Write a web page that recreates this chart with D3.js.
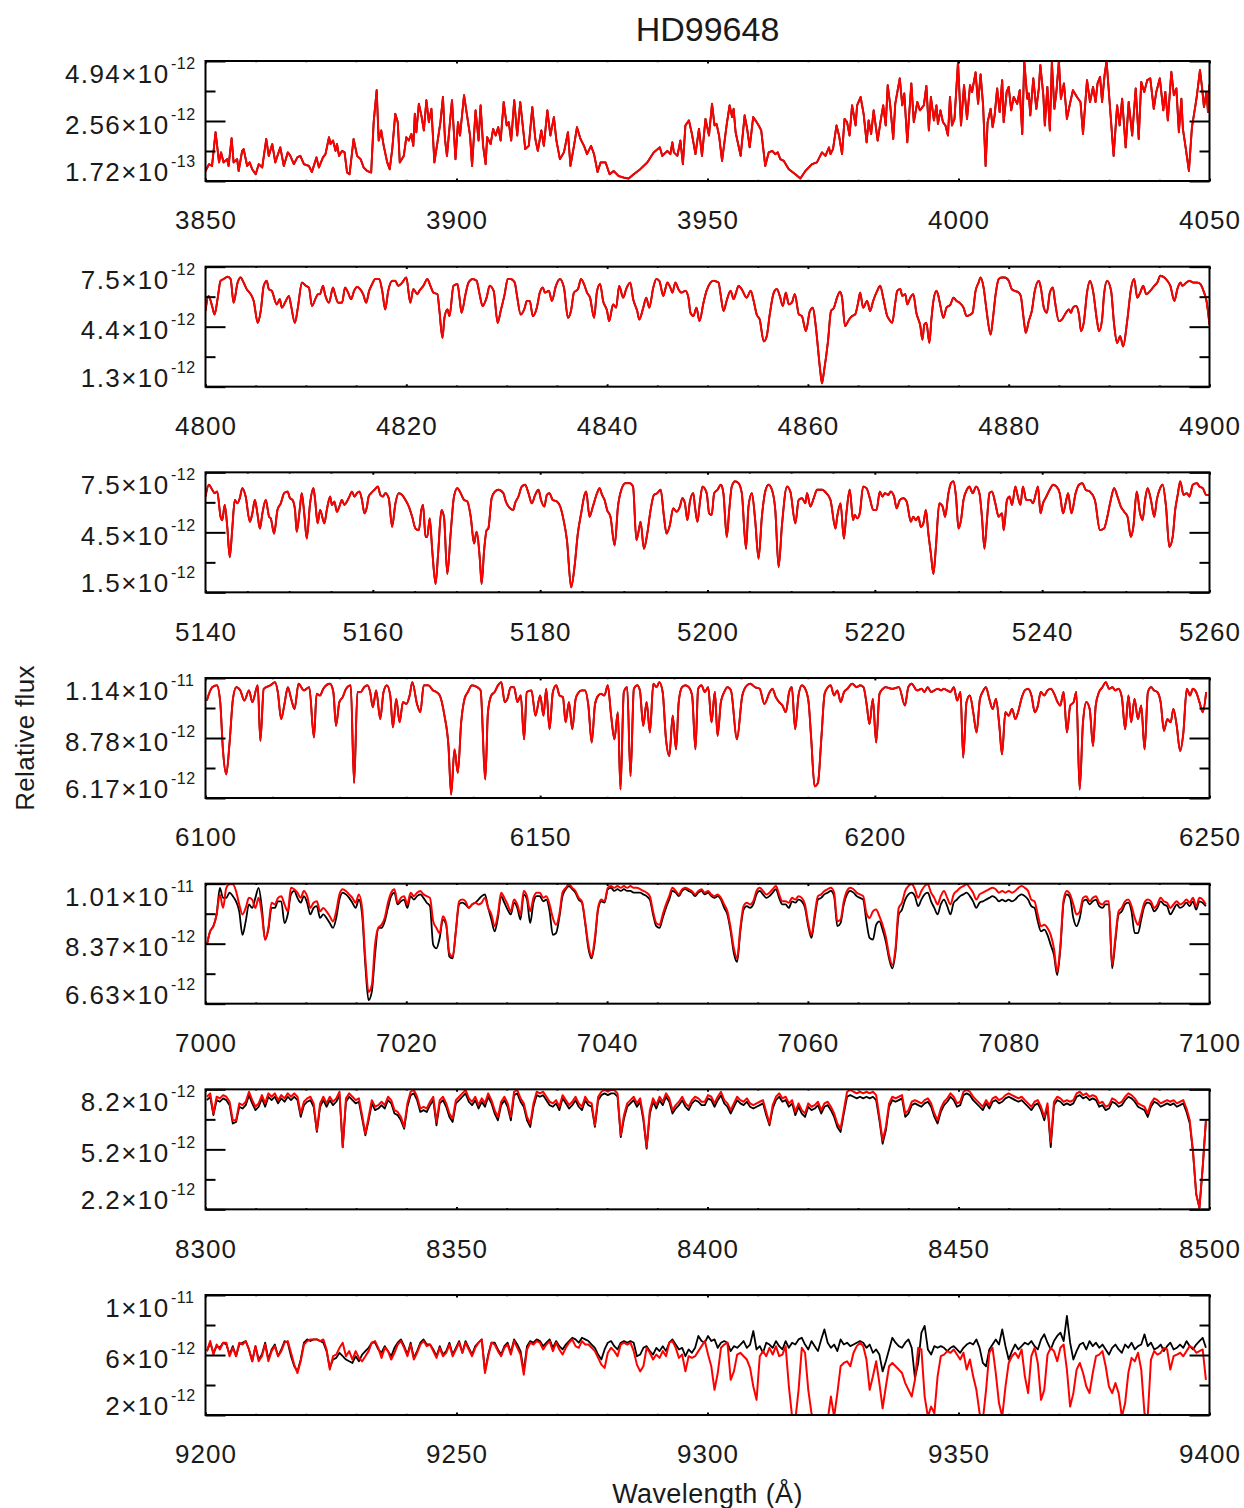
<!DOCTYPE html>
<html>
<head>
<meta charset="utf-8">
<script src="https://cdn.jsdelivr.net/npm/d3@7"></script>
<style>
  body { margin: 0; background: #fff; }
  svg text { font-family: "Liberation Sans", Arial, Helvetica, sans-serif; }
</style>
</head>
<body>
<svg id="chart" width="1244" height="1508"></svg>
<script>
// ---- Spectral windows of HD99648: observed (black) and model (red) flux ----
const FLUX_UNIT = 1e-12;   // flux arrays below are in units of 1e-12

const titleText = "HD99648";
const xAxisTitle = "Wavelength (Å)";
const yAxisTitle = "Relative flux";

// wavelength window of each panel (Å)
const waveRanges = [[3850, 4050], [4800, 4900], [5140, 5260], [6100, 6250], [7000, 7100], [8300, 8500], [9200, 9400]];
const waveMajorSteps = [50, 20, 20, 50, 20, 50, 50];
const waveMinorSteps = [10, 5, 5, 10, 5, 10, 10];

// labelled flux ticks of each panel: bottom, middle, top
const fluxTicks = [
  [1.72e-13, 2.56e-12, 4.94e-12],
  [1.3e-12, 4.4e-12, 7.5e-12],
  [1.5e-12, 4.5e-12, 7.5e-12],
  [6.17e-12, 8.78e-12, 1.14e-11],
  [6.63e-12, 8.37e-12, 1.01e-11],
  [2.2e-12, 5.2e-12, 8.2e-12],
  [2e-12, 6e-12, 1e-11]
];

// [wavelength, flux] vertices
const model3850 = [[3850.0,0.57],[3850.7,0.84],[3851.3,0.77],[3852.0,2.11],[3852.7,0.91],[3853.1,1.31],[3853.6,0.91],[3854.3,1.04],[3854.6,0.77],[3855.2,1.87],[3855.6,0.91],[3856.3,1.04],[3856.6,0.57],[3857.3,1.37],[3857.6,1.44],[3858.3,0.77],[3858.8,0.91],[3859.3,0.64],[3860.0,0.44],[3860.6,0.84],[3861.3,0.71],[3862.1,1.84],[3862.6,1.17],[3863.3,1.64],[3863.9,0.91],[3864.9,1.51],[3865.6,0.77],[3866.4,1.31],[3866.9,1.17],[3867.6,0.84],[3868.3,1.11],[3868.9,1.17],[3869.6,0.84],[3870.6,0.77],[3871.2,0.53],[3872.1,1.11],[3872.6,0.71],[3873.4,1.11],[3873.9,1.24],[3874.6,1.91],[3874.9,1.64],[3875.4,1.78],[3875.9,1.37],[3876.2,1.64],[3876.6,1.17],[3877.2,1.37],[3877.7,1.31],[3878.2,0.51],[3878.7,0.44],[3879.5,1.84],[3880.2,1.17],[3880.9,1.04],[3881.5,0.71],[3882.2,0.57],[3883.0,0.51],[3883.5,2.51],[3884.1,3.78],[3884.5,1.78],[3885.0,2.18],[3885.5,1.57],[3886.2,0.91],[3886.7,0.64],[3887.2,1.44],[3887.8,2.84],[3888.3,2.51],[3888.7,0.91],[3889.5,1.17],[3890.0,1.91],[3890.5,1.78],[3891.0,2.04],[3891.4,1.57],[3891.7,2.84],[3892.0,2.11],[3892.5,3.24],[3893.0,2.78],[3893.5,2.18],[3894.0,3.38],[3894.5,2.51],[3895.0,3.04],[3895.6,0.91],[3896.3,1.84],[3896.8,2.51],[3897.3,3.51],[3897.7,1.84],[3898.1,1.17],[3898.7,2.51],[3899.1,3.38],[3899.8,1.04],[3900.3,2.51],[3900.7,1.98],[3901.5,3.58],[3902.1,2.78],[3902.7,1.98],[3903.1,0.77],[3903.8,2.98],[3904.4,1.78],[3904.8,3.18],[3905.3,1.57],[3905.8,0.84],[3906.1,1.91],[3906.8,1.64],[3907.3,2.24],[3907.8,1.98],[3908.3,2.31],[3908.8,1.78],[3909.4,3.31],[3910.0,2.38],[3910.4,2.51],[3910.9,1.78],[3911.5,3.38],[3912.1,1.98],[3912.7,3.31],[3913.3,2.18],[3913.7,1.44],[3914.4,1.57],[3915.1,3.11],[3915.7,1.84],[3916.2,1.37],[3916.9,2.18],[3917.4,1.57],[3918.1,2.98],[3918.7,1.98],[3919.4,2.71],[3919.9,1.78],[3920.6,1.04],[3921.4,1.31],[3922.2,2.11],[3922.7,0.77],[3923.4,1.57],[3924.0,2.31],[3924.7,1.84],[3925.4,1.57],[3926.0,1.24],[3926.8,1.57],[3927.4,1.24],[3928.1,0.53],[3928.7,0.91],[3929.7,0.91],[3930.5,0.44],[3931.3,0.57],[3932.3,0.37],[3933.3,0.31],[3934.3,0.27],[3935.3,0.44],[3936.6,0.64],[3938.0,0.91],[3939.3,1.31],[3940.5,1.51],[3941.0,1.17],[3942.0,1.37],[3942.6,1.24],[3943.0,1.71],[3943.3,1.31],[3944.0,1.17],[3944.6,1.78],[3945.1,0.84],[3945.6,2.38],[3946.3,2.58],[3946.9,2.04],[3947.6,1.24],[3948.3,2.24],[3948.9,1.17],[3949.6,2.64],[3950.3,1.98],[3950.9,3.24],[3951.4,2.38],[3951.8,2.44],[3952.3,1.98],[3952.9,0.97],[3953.8,2.38],[3954.4,3.18],[3954.9,2.71],[3955.2,3.04],[3955.6,2.11],[3956.6,1.17],[3957.4,2.78],[3957.9,2.24],[3958.4,1.51],[3959.1,2.71],[3959.8,2.51],[3960.2,2.38],[3960.7,2.18],[3961.5,0.77],[3962.2,1.31],[3962.9,1.37],[3963.5,1.24],[3964.0,1.31],[3964.5,1.04],[3965.2,0.97],[3966.2,0.64],[3967.5,0.44],[3968.5,0.27],[3969.5,0.57],[3970.8,0.84],[3971.8,0.91],[3972.8,1.31],[3973.5,1.17],[3974.2,1.51],[3974.5,1.24],[3975.0,1.44],[3975.7,2.38],[3976.2,1.98],[3976.8,1.24],[3977.3,2.64],[3977.8,2.51],[3978.3,1.98],[3978.8,3.18],[3979.5,2.38],[3979.8,3.18],[3980.5,3.51],[3981.1,2.84],[3981.7,1.71],[3982.1,2.58],[3982.6,2.04],[3983.1,2.98],[3983.9,1.78],[3984.5,2.58],[3985.0,3.18],[3985.5,2.38],[3985.9,3.98],[3986.4,3.18],[3987.0,1.84],[3987.4,3.24],[3988.3,4.25],[3988.8,3.18],[3989.2,3.65],[3989.8,1.71],[3990.6,4.05],[3991.1,2.51],[3991.8,3.31],[3992.3,2.98],[3993.1,3.18],[3993.6,3.95],[3994.1,2.18],[3994.5,3.51],[3995.1,2.58],[3995.6,3.18],[3995.9,2.44],[3996.4,2.98],[3996.9,2.51],[3997.4,2.38],[3997.9,1.98],[3998.3,3.51],[3998.7,2.38],[3999.2,2.64],[3999.9,4.89],[4000.5,2.38],[4001.1,3.98],[4001.7,2.64],[4002.3,3.98],[4002.7,3.71],[4003.4,4.49],[4003.9,3.24],[4004.4,4.41],[4004.9,3.18],[4005.4,0.77],[4005.8,2.51],[4006.4,3.04],[4006.8,2.31],[4007.2,2.78],[4007.7,3.85],[4008.2,2.91],[4008.7,4.18],[4009.0,2.51],[4009.6,3.71],[4010.0,3.91],[4010.5,2.98],[4011.0,3.51],[4011.7,3.24],[4012.2,3.78],[4012.7,2.04],[4013.1,4.94],[4013.7,3.44],[4014.0,3.65],[4014.3,2.78],[4014.9,4.25],[4015.5,3.04],[4016.0,3.85],[4016.3,4.78],[4016.9,3.58],[4017.2,2.38],[4017.7,3.91],[4018.2,2.18],[4018.6,4.89],[4019.1,3.04],[4019.5,3.71],[4020.0,4.94],[4020.4,3.44],[4021.0,4.05],[4021.6,2.64],[4022.2,3.24],[4022.8,3.78],[4023.6,3.51],[4024.3,3.31],[4024.8,2.04],[4025.6,4.18],[4026.2,3.31],[4026.8,3.91],[4027.3,3.31],[4027.7,4.05],[4028.2,4.31],[4028.6,3.31],[4029.1,4.38],[4029.5,4.94],[4030.1,3.31],[4030.9,1.17],[4031.6,3.18],[4032.1,2.38],[4032.6,3.44],[4033.3,1.51],[4033.9,3.31],[4034.6,1.98],[4035.3,3.85],[4035.9,1.84],[4036.4,4.11],[4037.0,3.71],[4037.6,4.18],[4038.2,4.25],[4038.9,3.04],[4039.4,3.71],[4040.1,4.25],[4040.8,2.98],[4041.2,3.71],[4041.7,2.58],[4042.4,4.51],[4042.9,3.58],[4043.4,3.85],[4043.9,2.11],[4044.4,3.44],[4044.7,2.24],[4045.2,1.57],[4045.9,0.57],[4046.5,2.31],[4047.2,3.18],[4047.5,3.58],[4048.1,4.58],[4048.5,3.91],[4048.9,3.11],[4049.4,3.71],[4049.7,2.91],[4050.0,4.0]];
const obs3850 = model3850;

const model4800 = [[4800.0,5.21],[4800.3,5.99],[4800.7,5.38],[4800.9,5.03],[4801.2,5.82],[4801.5,6.77],[4801.8,6.86],[4802.2,6.98],[4802.5,6.86],[4802.8,5.64],[4803.2,6.68],[4803.5,6.94],[4803.8,6.68],[4804.1,6.34],[4804.5,6.08],[4804.8,5.73],[4805.2,4.60],[4805.5,5.21],[4805.8,6.51],[4806.1,6.77],[4806.3,6.34],[4806.6,6.25],[4807.1,5.55],[4807.4,5.82],[4807.6,5.38],[4808.0,5.73],[4808.3,5.99],[4808.5,5.55],[4808.9,4.60],[4809.2,5.38],[4809.6,6.68],[4810.0,6.51],[4810.3,6.42],[4810.6,5.47],[4811.0,5.90],[4811.2,6.08],[4811.4,6.08],[4811.7,6.51],[4811.9,6.08],[4812.3,5.64],[4812.7,6.42],[4812.9,6.08],[4813.2,5.64],[4813.6,5.64],[4813.9,6.42],[4814.2,6.16],[4814.5,5.82],[4814.8,6.25],[4815.1,6.46],[4815.4,6.34],[4815.7,6.08],[4816.0,5.64],[4816.3,6.25],[4816.6,6.60],[4816.9,6.86],[4817.3,6.86],[4817.6,6.25],[4817.9,5.29],[4818.2,6.25],[4818.6,6.77],[4818.9,6.77],[4819.2,6.51],[4819.6,6.68],[4820.0,6.94],[4820.4,5.64],[4820.7,6.34],[4821.1,6.08],[4821.3,6.25],[4821.7,6.51],[4822.1,6.86],[4822.4,6.51],[4822.7,6.16],[4823.1,6.08],[4823.3,5.21],[4823.6,3.82],[4823.8,4.86],[4824.1,5.29],[4824.3,4.95],[4824.7,6.51],[4825.1,6.60],[4825.3,5.90],[4825.5,5.12],[4825.9,6.08],[4826.2,6.68],[4826.6,6.86],[4827.0,6.77],[4827.3,6.08],[4827.6,5.47],[4828.0,5.90],[4828.3,6.51],[4828.7,6.25],[4829.1,4.60],[4829.4,5.21],[4829.8,6.08],[4830.1,6.86],[4830.4,6.86],[4830.8,6.68],[4831.0,6.08],[4831.4,5.03],[4831.8,5.38],[4832.0,5.73],[4832.3,5.73],[4832.6,4.95],[4833.0,5.38],[4833.3,6.16],[4833.6,6.42],[4833.8,6.16],[4834.2,6.25],[4834.5,5.73],[4834.9,6.51],[4835.3,6.86],[4835.7,6.42],[4836.1,4.86],[4836.4,5.21],[4836.7,6.16],[4837.1,6.34],[4837.4,6.86],[4837.7,6.60],[4838.0,6.16],[4838.3,5.90],[4838.7,4.86],[4839.0,6.25],[4839.3,6.60],[4839.6,5.73],[4840.0,5.21],[4840.2,4.69],[4840.6,5.55],[4840.9,5.38],[4841.2,6.51],[4841.6,5.90],[4841.9,6.34],[4842.3,6.68],[4842.6,5.82],[4843.0,5.21],[4843.2,4.77],[4843.6,5.38],[4843.9,5.90],[4844.2,5.38],[4844.6,6.42],[4844.9,6.86],[4845.2,6.77],[4845.6,5.99],[4845.8,6.34],[4846.0,6.68],[4846.3,6.42],[4846.5,6.16],[4846.8,6.68],[4847.1,6.34],[4847.4,6.16],[4847.8,6.25],[4848.1,5.90],[4848.3,5.12],[4848.6,4.95],[4848.9,5.38],[4849.2,4.69],[4849.6,5.64],[4849.9,6.25],[4850.3,6.68],[4850.6,6.77],[4851.1,6.68],[4851.3,6.08],[4851.6,5.21],[4851.9,5.73],[4852.3,6.25],[4852.6,5.82],[4852.8,6.08],[4853.1,6.51],[4853.4,6.34],[4853.9,5.90],[4854.3,6.25],[4854.6,5.73],[4854.9,5.03],[4855.2,4.77],[4855.6,3.64],[4855.9,3.91],[4856.2,5.03],[4856.6,6.16],[4856.9,6.34],[4857.2,5.99],[4857.5,5.47],[4857.8,6.16],[4858.1,5.55],[4858.4,5.64],[4858.7,6.08],[4859.1,5.03],[4859.4,4.95],[4859.8,4.17],[4860.2,5.21],[4860.5,5.38],[4860.8,4.34],[4861.2,2.26],[4861.4,1.47],[4861.6,2.08],[4862.0,3.64],[4862.3,5.21],[4862.6,5.38],[4862.9,5.90],[4863.2,6.21],[4863.4,5.90],[4863.7,4.43],[4864.1,4.77],[4864.4,4.95],[4864.7,5.03],[4865.0,5.64],[4865.2,6.16],[4865.5,5.38],[4865.9,5.73],[4866.2,5.21],[4866.5,5.73],[4866.9,6.25],[4867.2,6.51],[4867.5,5.90],[4867.9,4.95],[4868.1,4.77],[4868.4,4.60],[4868.7,5.64],[4868.9,6.25],[4869.2,6.34],[4869.4,5.99],[4869.7,6.08],[4869.9,5.55],[4870.2,5.90],[4870.5,6.08],[4870.8,5.12],[4871.2,4.43],[4871.4,3.73],[4871.6,4.51],[4871.8,4.60],[4872.1,3.56],[4872.3,4.77],[4872.5,5.73],[4872.8,6.25],[4873.0,5.99],[4873.2,5.47],[4873.5,4.86],[4873.8,5.38],[4874.2,5.55],[4874.5,5.90],[4874.8,5.73],[4875.1,5.64],[4875.5,5.38],[4875.8,4.95],[4876.2,5.03],[4876.4,5.12],[4876.7,6.25],[4877.0,6.68],[4877.2,6.94],[4877.5,6.42],[4877.8,5.21],[4878.2,3.99],[4878.4,4.69],[4878.7,6.08],[4879.0,6.86],[4879.3,6.94],[4879.6,6.94],[4880.0,6.77],[4880.3,6.34],[4880.6,6.25],[4881.0,6.16],[4881.2,5.99],[4881.5,4.77],[4881.7,4.08],[4882.0,4.69],[4882.3,5.21],[4882.6,6.25],[4883.0,6.77],[4883.2,6.42],[4883.5,5.38],[4883.8,5.12],[4884.1,6.16],[4884.4,6.42],[4884.6,5.73],[4885.0,4.69],[4885.3,4.77],[4885.6,5.03],[4886.0,5.29],[4886.2,5.12],[4886.4,5.38],[4886.7,5.47],[4887.0,5.03],[4887.2,4.17],[4887.5,4.69],[4887.8,6.16],[4888.1,6.77],[4888.4,6.25],[4888.8,4.69],[4889.0,4.17],[4889.3,4.77],[4889.5,6.08],[4889.8,6.77],[4890.2,6.25],[4890.5,4.51],[4890.8,3.56],[4891.1,3.91],[4891.4,3.38],[4891.8,4.69],[4892.2,6.42],[4892.5,6.86],[4892.8,5.90],[4893.1,6.16],[4893.4,6.51],[4893.7,6.08],[4894.1,6.25],[4894.5,6.51],[4894.8,6.68],[4895.1,7.03],[4895.5,6.94],[4895.8,6.77],[4896.1,6.51],[4896.5,5.73],[4896.8,6.34],[4897.1,6.68],[4897.3,6.51],[4897.7,6.68],[4898.0,6.77],[4898.4,6.68],[4898.8,6.68],[4899.1,6.60],[4899.4,6.25],[4899.7,5.73],[4900.0,4.51]];
const obs4800 = model4800;

const model5140 = [[5140.0,6.29],[5140.4,6.88],[5140.8,6.63],[5141.1,6.46],[5141.4,6.54],[5141.8,5.28],[5142.0,5.11],[5142.3,5.87],[5142.6,4.78],[5142.9,3.26],[5143.2,4.69],[5143.5,6.12],[5143.8,5.95],[5144.1,6.21],[5144.4,6.71],[5144.8,6.29],[5145.3,5.03],[5145.6,5.45],[5145.9,6.12],[5146.2,5.45],[5146.5,4.69],[5146.8,5.45],[5147.2,6.12],[5147.6,5.28],[5147.8,5.20],[5148.2,4.44],[5148.6,5.62],[5149.0,5.95],[5149.4,6.46],[5149.8,6.54],[5150.1,6.21],[5150.4,6.12],[5150.7,5.62],[5150.9,4.53],[5151.3,5.79],[5151.5,6.46],[5151.8,5.45],[5152.1,4.19],[5152.5,5.95],[5152.9,6.71],[5153.1,6.12],[5153.4,4.95],[5153.7,5.62],[5154.2,4.95],[5154.5,5.62],[5154.9,6.29],[5155.1,5.87],[5155.4,6.04],[5155.7,5.53],[5156.0,5.79],[5156.3,6.12],[5156.6,5.87],[5156.9,6.04],[5157.2,6.29],[5157.5,6.54],[5157.8,6.29],[5158.1,6.46],[5158.4,6.54],[5158.7,6.12],[5159.0,5.45],[5159.3,5.79],[5159.5,6.29],[5159.8,6.46],[5160.2,6.63],[5160.6,6.79],[5160.9,6.37],[5161.2,6.29],[5161.5,6.46],[5161.9,6.21],[5162.3,4.78],[5162.7,5.95],[5163.1,6.46],[5163.5,6.37],[5163.9,6.12],[5164.3,5.79],[5164.7,5.28],[5165.1,4.69],[5165.5,4.61],[5165.8,5.62],[5166.0,5.87],[5166.3,4.27],[5166.5,4.27],[5166.8,5.20],[5167.1,3.60],[5167.5,1.92],[5167.8,3.43],[5168.2,5.62],[5168.5,5.28],[5168.9,2.42],[5169.3,4.44],[5169.7,6.29],[5170.1,6.71],[5170.5,6.46],[5170.9,6.12],[5171.3,6.04],[5171.7,5.28],[5172.1,3.94],[5172.4,4.53],[5172.8,3.10],[5173.0,1.92],[5173.3,3.60],[5173.6,4.61],[5173.8,4.69],[5174.2,6.21],[5174.6,6.54],[5175.0,6.63],[5175.6,6.46],[5175.9,6.04],[5176.4,5.70],[5176.8,5.62],[5177.0,5.95],[5177.4,6.29],[5177.8,6.79],[5178.2,6.88],[5178.6,6.46],[5179.0,5.95],[5179.4,6.37],[5179.8,6.63],[5180.1,6.12],[5180.5,5.79],[5180.8,6.37],[5181.1,6.46],[5181.5,6.12],[5182.0,6.04],[5182.4,5.79],[5182.8,5.11],[5183.2,4.11],[5183.7,1.75],[5184.1,2.76],[5184.5,4.44],[5184.9,5.45],[5185.3,6.37],[5185.5,6.54],[5185.9,5.28],[5186.3,5.79],[5186.8,6.46],[5187.1,6.71],[5187.4,6.37],[5187.7,6.12],[5188.0,5.62],[5188.4,5.28],[5188.9,3.85],[5189.3,5.79],[5189.7,6.63],[5190.2,6.96],[5190.7,6.96],[5191.1,6.79],[5191.5,4.11],[5191.9,4.86],[5192.0,5.03],[5192.4,3.68],[5192.8,4.44],[5193.2,5.62],[5193.6,6.37],[5194.0,6.46],[5194.4,6.63],[5194.8,5.28],[5195.1,4.44],[5195.5,4.86],[5195.9,5.70],[5196.3,5.53],[5196.7,5.79],[5197.0,6.21],[5197.3,5.95],[5197.6,5.11],[5197.9,6.04],[5198.3,6.46],[5198.5,5.79],[5198.8,5.03],[5199.1,6.04],[5199.4,6.79],[5199.9,6.46],[5200.2,5.45],[5200.5,5.37],[5200.8,6.46],[5201.2,6.63],[5201.6,6.88],[5201.9,6.46],[5202.3,4.27],[5202.6,5.62],[5202.9,6.79],[5203.3,7.05],[5203.7,6.96],[5204.1,6.46],[5204.6,3.68],[5204.9,5.79],[5205.3,6.46],[5205.7,5.11],[5206.1,3.18],[5206.5,5.28],[5206.9,6.54],[5207.3,6.88],[5207.7,6.63],[5208.1,5.62],[5208.5,2.76],[5208.9,4.86],[5209.5,6.79],[5209.9,6.54],[5210.5,4.95],[5210.9,6.12],[5211.3,6.21],[5211.7,5.95],[5211.9,6.46],[5212.3,5.79],[5212.7,6.21],[5213.1,6.63],[5213.7,6.63],[5214.2,6.46],[5214.7,6.12],[5215.3,4.69],[5215.5,5.28],[5215.9,5.95],[5216.3,4.19],[5216.6,5.45],[5217.0,6.63],[5217.4,5.11],[5217.6,5.37],[5217.9,5.20],[5218.2,5.45],[5218.6,6.79],[5219.0,6.71],[5219.4,6.21],[5219.8,5.62],[5220.2,5.62],[5220.6,6.54],[5220.9,6.29],[5221.2,6.46],[5221.6,6.37],[5221.9,6.54],[5222.3,6.29],[5222.6,5.70],[5223.0,6.12],[5223.4,6.21],[5223.8,6.04],[5224.3,5.03],[5224.6,5.28],[5224.9,5.11],[5225.2,5.28],[5225.5,4.78],[5225.8,4.95],[5226.1,5.62],[5226.4,4.44],[5226.7,3.43],[5227.0,2.42],[5227.3,3.77],[5227.7,5.95],[5228.1,5.79],[5228.4,5.28],[5228.8,6.46],[5229.1,6.96],[5229.4,7.05],[5229.7,6.29],[5230.0,4.69],[5230.3,5.11],[5230.6,6.12],[5231.0,6.63],[5231.3,6.79],[5231.7,6.46],[5232.1,6.79],[5232.5,6.46],[5232.8,5.28],[5233.1,3.68],[5233.4,5.11],[5233.7,6.46],[5234.0,6.54],[5234.4,5.95],[5234.8,5.28],[5235.2,5.45],[5235.4,4.61],[5235.8,6.12],[5236.1,6.29],[5236.4,5.87],[5236.8,6.79],[5237.0,6.46],[5237.4,5.87],[5237.7,6.79],[5238.1,6.12],[5238.6,6.12],[5238.9,5.95],[5239.3,6.54],[5239.5,6.79],[5239.8,5.45],[5240.1,5.95],[5240.5,6.29],[5240.9,6.63],[5241.3,6.88],[5241.7,6.79],[5242.1,6.46],[5242.5,5.45],[5242.8,5.95],[5243.1,6.46],[5243.5,5.45],[5244.0,6.46],[5244.4,6.88],[5244.8,6.96],[5245.2,6.63],[5245.7,6.54],[5246.3,6.12],[5246.9,4.61],[5247.4,4.69],[5247.7,5.11],[5248.2,6.12],[5248.6,6.71],[5249.0,6.29],[5249.4,5.79],[5249.8,5.53],[5250.2,5.28],[5250.6,4.27],[5250.9,4.78],[5251.3,6.54],[5251.7,5.45],[5252.0,5.11],[5252.3,6.12],[5252.6,6.71],[5253.0,6.12],[5253.4,5.28],[5253.7,6.12],[5254.1,6.71],[5254.4,6.88],[5254.8,5.79],[5255.2,3.77],[5255.6,4.27],[5255.9,5.62],[5256.2,6.37],[5256.5,7.05],[5256.9,6.37],[5257.3,6.46],[5257.6,6.29],[5258.0,6.88],[5258.5,6.96],[5258.8,6.79],[5259.2,6.71],[5259.6,6.37],[5260.0,6.37]];
const obs5140 = model5140;

const model6100 = [[6100.2,10.42],[6101.0,11.00],[6101.7,11.08],[6102.2,10.35],[6102.6,8.29],[6103.1,7.20],[6103.6,8.59],[6104.1,10.49],[6104.6,11.00],[6105.2,10.86],[6105.8,10.42],[6106.5,10.86],[6107.0,10.35],[6107.8,11.08],[6108.2,8.66],[6108.7,10.93],[6109.7,11.08],[6110.4,11.22],[6110.8,10.79],[6111.3,9.61],[6111.8,10.27],[6112.3,11.00],[6112.8,10.49],[6113.3,10.05],[6113.9,11.15],[6114.7,10.86],[6115.5,11.00],[6116.2,8.81],[6116.6,10.71],[6117.1,10.64],[6117.6,10.93],[6118.6,11.15],[6119.1,10.79],[6119.5,9.32],[6120.0,10.35],[6120.5,10.57],[6121.0,10.93],[6121.7,11.08],[6122.2,6.83],[6122.7,10.79],[6123.2,10.79],[6123.7,11.00],[6124.2,11.08],[6124.6,10.79],[6125.0,10.13],[6125.5,10.86],[6126.1,9.61],[6126.6,10.79],[6127.1,11.08],[6127.6,10.64],[6128.0,9.25],[6128.5,10.49],[6129.0,9.47],[6129.5,10.35],[6130.0,10.27],[6130.5,10.64],[6130.9,11.22],[6131.6,10.27],[6132.1,9.91],[6132.6,11.08],[6133.3,11.08],[6134.0,10.86],[6134.5,10.79],[6135.0,10.64],[6135.7,9.76],[6136.3,8.44],[6136.7,6.32],[6137.2,8.29],[6137.7,7.27],[6138.2,9.47],[6138.7,10.49],[6139.2,10.79],[6139.8,11.08],[6140.6,11.00],[6141.1,10.86],[6141.8,6.98],[6142.2,9.91],[6142.7,10.64],[6143.2,10.79],[6143.7,11.08],[6144.2,11.22],[6144.7,10.35],[6145.1,10.49],[6145.6,11.00],[6146.1,11.00],[6146.6,10.35],[6147.1,10.64],[6147.6,8.73],[6148.0,10.79],[6148.7,10.86],[6149.3,9.76],[6150.0,10.64],[6150.5,9.76],[6150.9,10.93],[6151.4,9.17],[6151.9,10.79],[6152.4,11.08],[6152.9,10.64],[6153.4,10.57],[6153.8,9.47],[6154.3,10.35],[6154.8,9.17],[6155.3,10.49],[6155.8,10.79],[6156.2,10.86],[6156.7,10.86],[6157.2,10.20],[6157.7,8.59],[6158.2,10.27],[6158.7,10.64],[6159.1,10.71],[6159.6,10.64],[6160.1,11.08],[6160.6,9.76],[6161.1,8.73],[6161.6,9.91],[6162.0,6.54],[6162.5,10.79],[6163.0,11.00],[6163.5,7.12],[6164.0,10.93],[6164.5,11.08],[6164.9,10.86],[6165.4,9.32],[6165.9,10.35],[6166.4,9.03],[6166.9,11.15],[6167.4,11.00],[6167.8,11.22],[6168.3,10.79],[6168.8,8.73],[6169.3,8.00],[6169.8,9.76],[6170.3,8.29],[6170.7,10.35],[6171.2,11.00],[6171.7,11.08],[6172.2,11.00],[6172.7,10.64],[6173.2,8.29],[6173.6,10.93],[6174.1,11.08],[6174.6,10.79],[6175.1,11.00],[6175.6,9.47],[6176.1,10.79],[6176.5,8.88],[6177.0,10.35],[6177.5,10.79],[6178.0,11.00],[6178.5,10.86],[6179.4,8.73],[6180.2,10.64],[6180.9,11.08],[6181.4,11.15],[6182.1,11.00],[6182.8,10.93],[6183.5,10.27],[6184.3,10.79],[6184.7,10.93],[6185.2,10.57],[6185.7,10.35],[6186.2,10.20],[6186.7,9.91],[6187.2,10.79],[6187.6,11.00],[6188.1,9.17],[6188.6,10.64],[6189.1,11.08],[6189.6,10.93],[6190.1,10.35],[6190.5,8.73],[6191.0,6.68],[6191.5,6.83],[6192.0,8.73],[6192.5,10.71],[6193.0,11.00],[6193.4,11.08],[6193.9,10.64],[6194.4,10.86],[6194.9,10.35],[6195.4,10.79],[6195.9,10.93],[6196.6,11.15],[6197.3,11.00],[6197.8,11.08],[6198.3,11.00],[6198.8,10.20],[6199.2,9.39],[6199.7,10.49],[6200.2,8.59],[6200.7,10.71],[6201.2,10.93],[6201.6,11.00],[6202.6,10.93],[6203.6,11.00],[6204.5,10.20],[6205.0,11.00],[6205.5,11.15],[6206.3,10.86],[6207.0,10.93],[6207.4,10.79],[6207.9,11.00],[6208.4,10.79],[6209.4,10.93],[6209.9,10.86],[6210.3,10.93],[6210.8,10.86],[6211.3,10.79],[6211.8,11.00],[6212.3,10.42],[6212.8,10.79],[6213.2,7.93],[6213.7,10.35],[6214.2,10.64],[6214.7,9.91],[6215.2,9.03],[6215.7,10.49],[6216.1,10.79],[6216.6,11.00],[6217.1,10.49],[6217.6,10.05],[6218.1,10.49],[6218.6,9.32],[6219.0,8.07],[6219.5,9.91],[6220.0,9.76],[6220.5,10.05],[6221.0,9.61],[6221.4,9.91],[6221.9,10.49],[6222.4,10.86],[6222.9,10.93],[6223.4,10.64],[6223.9,9.91],[6224.3,10.13],[6224.8,10.79],[6225.3,10.64],[6225.8,10.86],[6226.3,10.93],[6226.8,10.71],[6227.3,10.35],[6227.7,10.20],[6228.2,10.79],[6228.7,9.03],[6229.2,10.20],[6229.7,10.35],[6230.1,10.79],[6230.6,6.54],[6231.1,9.47],[6231.6,10.35],[6232.1,10.05],[6232.6,8.44],[6233.0,10.20],[6233.5,10.79],[6234.0,11.00],[6234.5,11.22],[6235.0,10.93],[6235.5,11.00],[6235.9,10.86],[6236.4,10.93],[6236.9,10.57],[6237.4,9.17],[6237.9,10.64],[6238.3,9.47],[6238.8,10.49],[6239.3,9.61],[6239.8,10.20],[6240.3,8.29],[6240.8,10.79],[6241.3,11.00],[6241.7,10.86],[6242.2,10.79],[6242.7,10.35],[6243.2,9.10],[6243.7,9.61],[6244.2,9.47],[6244.6,10.05],[6245.1,9.32],[6245.6,8.22],[6246.1,9.03],[6246.6,10.93],[6247.1,10.64],[6247.5,10.93],[6248.0,10.79],[6248.5,10.35],[6249.0,9.91],[6249.5,10.79]];
const obs6100 = model6100;

// evenly sampled windows: first wavelength and step (Å)
const grid7000 = [7000.14, 0.322];
const model7000 = [8.33,8.72,8.87,9.21,9.79,9.40,9.98,10.08,10.08,9.89,9.50,9.21,9.40,9.69,9.64,9.40,9.69,9.21,8.48,8.82,9.55,9.50,9.69,9.74,9.50,9.30,9.98,9.94,9.84,9.69,9.89,9.74,9.40,9.55,9.59,9.30,9.40,9.30,9.16,9.01,9.30,9.79,9.94,9.89,9.79,9.69,9.55,9.79,9.40,7.94,6.97,7.16,8.33,8.82,8.91,9.11,9.55,9.84,9.94,9.55,9.69,9.74,9.50,9.84,9.74,9.84,9.89,9.79,9.74,9.69,9.01,8.82,8.67,9.16,8.96,8.09,7.99,8.72,9.59,9.64,9.59,9.40,9.50,9.55,9.50,9.55,9.69,9.40,9.21,8.87,9.21,9.84,9.69,9.50,9.30,9.64,9.50,9.21,9.89,9.74,9.30,9.69,9.84,9.84,9.69,9.74,9.50,9.11,8.91,9.21,9.84,9.98,10.08,9.98,9.89,9.69,9.59,9.01,8.33,7.99,8.53,9.40,9.64,9.59,9.98,10.03,9.98,10.03,9.98,10.03,9.98,10.03,9.98,9.98,9.94,9.89,9.84,9.74,9.30,8.96,8.91,9.21,9.50,9.74,9.98,9.89,9.79,9.94,9.98,9.94,9.89,9.79,9.89,9.94,9.84,9.89,9.79,9.74,9.79,9.69,9.50,9.30,8.82,8.23,7.94,8.82,9.45,9.55,9.50,9.59,9.89,9.98,9.89,9.79,9.84,9.94,10.03,9.79,9.59,9.59,9.55,9.69,9.64,9.74,9.69,9.50,8.96,8.62,9.21,9.74,9.79,9.89,9.94,9.98,9.84,9.01,9.06,9.59,9.89,9.98,9.94,9.84,9.79,9.74,9.25,9.11,9.30,9.35,9.16,8.91,8.57,8.04,7.75,8.23,9.40,9.55,9.89,10.03,10.08,9.94,9.69,9.89,10.03,10.08,9.84,9.69,9.50,9.74,9.89,9.69,9.50,9.79,9.89,9.98,10.03,10.08,9.98,9.84,9.64,9.79,9.84,9.89,9.94,9.98,9.94,9.84,9.89,9.84,9.89,9.84,9.89,9.98,10.03,9.98,9.89,9.64,9.59,9.21,8.87,8.91,8.82,8.62,8.23,7.55,8.33,9.64,9.89,9.79,9.50,9.21,9.30,9.69,9.74,9.59,9.69,9.74,9.55,9.50,9.59,9.59,7.75,8.53,9.30,9.40,9.59,9.64,9.45,9.11,8.91,9.21,9.55,9.64,9.59,9.40,9.50,9.69,9.59,9.55,9.40,9.50,9.59,9.50,9.55,9.64,9.55,9.69,9.45,9.69,9.64,9.50];
const obs7000 = [8.33,8.72,8.87,9.21,9.98,9.69,9.69,9.84,9.74,9.59,9.30,8.62,9.01,9.50,9.40,9.69,9.98,9.40,8.48,8.77,9.40,9.40,9.59,9.59,8.96,9.21,9.79,9.89,9.69,9.55,9.74,9.55,9.21,9.40,9.45,9.11,9.21,9.11,8.96,8.82,9.11,9.64,9.84,9.79,9.69,9.55,9.40,9.64,9.21,7.75,6.73,6.97,8.04,8.82,8.82,9.01,9.40,9.74,9.84,9.50,9.59,9.64,9.40,9.74,9.64,9.74,9.79,9.69,9.55,9.45,8.33,8.23,8.53,9.06,8.91,7.99,7.94,8.72,9.50,9.55,9.50,9.40,9.50,9.55,9.64,9.74,9.79,9.40,9.06,8.72,9.11,9.74,9.55,9.35,9.21,9.55,9.40,9.06,9.79,9.64,8.96,9.55,9.74,9.74,9.59,9.64,9.30,8.62,8.67,9.11,9.74,9.94,10.03,9.94,9.84,9.64,9.55,8.96,8.23,7.94,8.43,9.35,9.59,9.55,9.94,9.98,9.89,9.94,9.89,9.94,9.89,9.89,9.84,9.84,9.84,9.79,9.74,9.64,9.21,8.87,8.82,9.11,9.40,9.64,9.89,9.84,9.74,9.89,9.94,9.89,9.84,9.74,9.84,9.89,9.79,9.84,9.74,9.69,9.74,9.64,9.40,9.21,8.72,8.09,7.84,8.72,9.35,9.45,9.40,9.50,9.79,9.89,9.79,9.69,9.74,9.84,9.94,9.69,9.50,9.50,9.40,9.59,9.55,9.64,9.59,9.40,8.87,8.53,9.11,9.64,9.69,9.79,9.84,9.89,9.74,8.87,8.96,9.50,9.79,9.89,9.84,9.74,9.69,9.64,9.01,8.53,8.48,8.91,9.01,8.77,8.43,7.94,7.65,8.13,9.21,9.35,9.64,9.79,9.84,9.74,9.45,9.64,9.79,9.84,9.59,9.40,9.21,9.50,9.64,9.45,9.21,9.55,9.64,9.74,9.79,9.84,9.74,9.59,9.40,9.55,9.59,9.64,9.69,9.74,9.69,9.59,9.64,9.59,9.64,9.59,9.64,9.74,9.79,9.74,9.64,9.45,9.40,9.01,8.72,8.77,8.62,8.33,8.04,7.46,8.23,9.55,9.79,9.69,9.11,8.87,9.11,9.59,9.64,9.50,9.59,9.64,9.45,9.40,9.50,9.50,7.65,8.43,9.21,9.30,9.50,9.55,9.30,8.67,8.67,9.06,9.45,9.55,9.50,9.30,9.40,9.59,9.50,9.45,9.21,9.35,9.50,9.40,9.45,9.55,9.45,9.59,9.35,9.59,9.55,9.45];

const grid8300 = [8300.29, 0.644];
const model8300 = [7.83,8.00,6.99,7.83,7.75,7.91,7.83,7.58,6.65,6.65,7.50,7.41,7.58,8.08,7.66,7.33,7.50,7.91,7.50,8.00,7.83,8.00,7.66,7.91,7.75,8.00,7.83,8.00,7.83,6.99,7.58,7.75,7.83,7.50,6.15,7.50,7.83,7.50,7.83,7.58,7.75,8.08,5.31,7.75,8.00,7.83,7.66,7.75,6.91,5.98,6.82,7.66,7.33,7.41,7.58,7.41,7.83,7.66,7.16,7.07,6.82,6.32,7.50,8.08,8.17,7.83,7.24,7.33,7.24,7.58,7.83,6.57,7.66,7.83,7.50,6.99,6.74,7.66,7.83,8.00,8.17,7.75,7.58,7.83,7.41,7.75,7.50,8.00,7.66,7.16,6.82,7.58,7.83,7.50,6.82,8.08,8.17,7.75,7.50,6.82,6.49,7.50,8.08,8.00,8.08,7.83,7.58,7.50,7.66,7.33,7.91,7.66,7.41,7.58,7.83,7.50,7.33,7.83,7.58,7.50,6.40,7.83,8.08,8.17,8.08,8.17,8.17,8.00,5.90,6.91,7.50,7.66,7.83,7.50,7.75,6.82,5.31,7.16,7.75,7.41,7.83,7.58,8.00,7.75,7.16,7.41,7.58,7.83,7.50,7.33,7.66,7.83,7.75,7.58,7.58,7.91,7.83,7.50,7.83,8.08,7.66,7.50,7.16,7.50,7.83,7.66,7.58,7.75,7.50,7.41,7.50,7.58,7.66,7.07,6.49,7.41,7.83,8.00,7.75,7.83,7.50,7.66,7.07,7.50,7.16,6.99,7.50,7.33,7.41,7.58,7.16,7.50,7.58,7.33,6.99,6.49,6.23,7.16,8.08,8.17,8.08,8.00,8.08,8.00,8.08,8.00,8.08,7.91,6.82,5.65,6.32,7.50,7.83,7.75,7.83,7.91,6.99,7.16,7.58,7.66,7.58,7.50,7.66,7.75,7.50,6.99,6.65,7.24,7.58,7.75,8.00,7.83,7.50,7.58,8.08,8.17,8.08,7.83,7.66,7.50,7.33,7.66,7.41,7.75,7.83,7.66,7.75,7.91,8.00,7.91,7.83,7.75,7.83,7.66,7.50,7.33,7.58,7.66,7.33,6.82,7.50,5.56,7.58,7.83,7.75,7.58,7.66,7.58,7.66,8.00,8.08,7.91,8.00,7.83,7.91,7.83,7.50,7.58,7.33,7.41,7.75,7.66,7.50,7.58,7.83,8.00,7.91,7.75,7.50,7.41,7.33,6.99,7.50,7.75,7.66,7.50,7.58,7.66,7.58,7.66,7.50,7.58,7.66,7.24,6.65,5.14,2.96,2.28,4.30,6.65];
const obs8300 = [7.66,7.83,6.91,7.66,7.58,7.75,7.66,7.41,6.49,6.57,7.33,7.24,7.41,7.91,7.50,7.16,7.33,7.75,7.33,7.83,7.66,7.83,7.50,7.75,7.58,7.83,7.66,7.83,7.66,6.82,7.41,7.58,7.66,7.33,6.07,7.33,7.66,7.33,7.66,7.41,7.58,7.91,5.31,7.58,7.83,7.66,7.50,7.58,6.74,5.90,6.65,7.50,7.16,7.24,7.41,7.24,7.66,7.50,6.99,6.91,6.65,6.23,7.33,7.91,8.00,7.66,7.07,7.16,7.07,7.41,7.66,6.40,7.50,7.66,7.33,6.82,6.57,7.50,7.66,7.83,8.00,7.58,7.41,7.66,7.24,7.58,7.33,7.83,7.50,6.99,6.65,7.41,7.66,7.33,6.65,7.91,8.00,7.58,7.33,6.65,6.32,7.33,7.91,7.83,7.91,7.66,7.41,7.33,7.50,7.16,7.75,7.50,7.24,7.41,7.66,7.33,7.16,7.66,7.41,7.33,6.32,7.66,7.91,8.00,7.91,8.00,8.00,7.83,5.81,6.74,7.33,7.50,7.66,7.33,7.58,6.65,5.23,6.99,7.58,7.24,7.66,7.41,7.83,7.58,6.99,7.24,7.41,7.66,7.33,7.16,7.50,7.66,7.58,7.41,7.41,7.75,7.66,7.33,7.66,7.91,7.50,7.33,6.99,7.33,7.66,7.50,7.41,7.58,7.33,7.24,7.33,7.41,7.50,6.91,6.40,7.24,7.66,7.83,7.58,7.66,7.33,7.50,6.91,7.33,6.99,6.82,7.33,7.16,7.24,7.41,6.99,7.33,7.41,7.16,6.82,6.32,6.07,6.99,7.83,7.91,7.83,7.75,7.83,7.75,7.83,7.75,7.83,7.66,6.65,5.48,6.15,7.33,7.66,7.58,7.66,7.75,6.82,6.99,7.41,7.50,7.41,7.33,7.50,7.58,7.33,6.82,6.49,7.07,7.41,7.58,7.83,7.66,7.33,7.41,7.91,8.00,7.91,7.66,7.50,7.33,7.16,7.50,7.24,7.58,7.66,7.50,7.58,7.75,7.83,7.75,7.66,7.58,7.66,7.50,7.33,7.16,7.41,7.50,7.16,6.65,7.33,5.31,7.41,7.66,7.58,7.41,7.50,7.41,7.50,7.83,7.91,7.75,7.83,7.66,7.75,7.66,7.33,7.41,7.16,7.24,7.58,7.50,7.33,7.41,7.66,7.83,7.75,7.58,7.33,7.24,7.16,6.82,7.33,7.58,7.50,7.33,7.41,7.50,7.41,7.50,7.33,7.41,7.50,7.07,6.49,5.06,2.96,2.28,4.30,6.65];

const grid9200 = [9200.29, 0.644];
const model9200 = [6.26,6.93,6.03,6.70,6.37,6.82,6.82,5.92,6.48,5.92,6.82,6.70,6.93,6.37,5.58,6.59,5.58,5.92,6.70,5.58,6.26,6.59,5.92,6.26,6.82,6.93,6.15,5.36,4.80,5.58,6.70,6.93,7.04,7.04,7.04,6.93,7.04,6.37,5.03,5.92,6.03,6.48,6.82,5.92,6.26,5.70,6.26,5.81,5.58,5.92,6.26,6.82,6.93,6.48,5.81,6.48,6.26,5.70,6.15,6.70,6.93,6.48,5.92,6.70,5.70,6.15,6.70,6.93,6.59,6.70,6.26,5.81,6.48,5.92,6.15,6.70,5.92,6.37,6.82,6.15,6.82,6.37,5.92,6.48,6.82,7.04,4.80,5.92,6.82,6.70,6.26,5.92,6.48,6.70,6.03,6.93,6.48,6.03,4.69,6.37,6.82,6.70,6.93,6.82,6.37,6.70,6.93,6.26,6.82,6.37,6.03,6.48,6.82,7.04,6.59,6.48,6.93,6.70,6.70,6.48,6.26,5.81,5.36,5.14,6.15,6.48,6.26,5.92,6.70,6.82,6.70,6.82,6.26,5.36,4.91,5.25,6.48,6.15,5.70,6.03,5.81,6.26,5.92,6.82,6.93,6.48,5.81,6.03,4.91,5.92,5.81,5.92,6.26,6.59,6.93,6.03,5.25,3.68,4.80,6.48,6.70,6.82,4.35,4.91,6.03,6.15,5.92,5.70,5.14,3.90,3.01,5.92,6.26,5.92,6.48,6.03,6.59,5.92,6.03,6.59,3.90,1.89,1.66,3.68,6.48,6.15,3.68,2.11,1.66,1.55,2.00,1.44,1.66,3.23,1.89,3.46,5.25,5.47,5.58,5.25,6.15,6.59,6.82,6.59,5.70,3.68,4.58,5.58,4.13,2.45,3.90,5.25,5.47,5.25,5.03,4.80,4.13,3.68,3.23,4.35,6.48,6.37,3.23,1.89,2.56,2.11,4.58,5.92,6.03,6.26,6.15,6.37,6.03,5.70,6.15,5.03,5.70,4.58,3.68,2.11,1.66,3.68,6.15,6.48,4.80,2.78,1.89,3.90,5.47,5.92,6.15,5.81,6.37,4.58,3.46,5.92,6.48,5.47,3.01,3.68,6.03,6.48,6.26,5.58,6.48,6.70,5.03,2.56,3.46,5.03,5.47,4.80,3.90,3.46,4.80,5.92,6.03,6.26,5.25,3.90,3.46,4.13,3.46,1.89,2.78,4.80,5.81,5.58,6.15,5.03,2.11,1.89,5.70,6.26,6.03,6.15,6.48,6.37,5.03,5.92,6.03,6.15,5.92,6.26,6.59,6.48,6.15,6.26,6.37,4.35];
const obs9200 = [6.26,6.82,6.15,6.59,6.48,6.82,6.70,6.03,6.59,5.92,6.70,6.82,6.93,6.37,5.58,6.59,5.70,6.03,6.82,5.70,6.37,6.70,5.92,6.37,6.93,6.82,5.92,5.25,4.91,5.70,6.82,7.04,6.93,7.04,7.04,6.93,6.82,6.26,5.14,5.70,5.81,6.15,5.92,5.70,5.58,5.47,5.92,5.58,6.03,6.26,6.48,6.82,6.82,6.37,6.15,6.59,6.26,5.92,6.48,6.82,7.04,6.59,6.03,6.82,5.81,6.26,6.82,7.04,6.70,6.70,6.37,5.92,6.59,6.03,6.26,6.82,6.03,6.48,6.93,6.15,6.93,6.48,6.03,6.59,6.82,7.04,4.91,6.03,6.82,6.82,6.37,6.03,6.59,6.82,6.15,7.04,6.70,6.26,4.91,6.59,6.93,6.82,7.04,6.93,6.59,6.82,7.04,6.48,6.93,6.59,6.37,6.70,6.93,7.15,7.04,6.82,7.15,7.04,6.93,6.70,6.48,6.03,5.70,6.37,6.82,6.93,6.59,6.37,6.82,6.93,6.82,6.93,6.82,5.92,6.03,6.48,6.59,6.26,6.03,6.48,6.26,6.59,6.26,6.82,7.04,6.70,6.37,6.48,5.92,6.37,6.15,6.48,7.27,6.93,6.82,7.27,6.93,7.04,6.48,6.82,6.93,6.82,6.26,6.59,6.48,6.70,6.93,6.48,6.70,7.60,6.37,6.59,6.15,6.82,6.70,6.48,6.93,6.59,6.37,6.93,6.48,6.82,6.70,7.04,7.15,6.70,6.37,6.93,6.59,6.26,7.04,7.71,6.82,6.48,6.70,6.26,7.04,6.70,6.82,6.59,6.70,6.82,6.93,6.82,6.48,6.70,6.15,6.37,6.03,4.91,5.58,6.37,7.15,6.82,6.59,6.48,6.82,7.04,6.48,4.46,5.47,7.49,7.94,6.37,6.03,6.59,6.48,6.59,6.48,6.26,6.48,6.59,6.37,6.15,6.48,6.70,6.82,6.70,7.04,6.48,5.47,5.25,6.37,6.70,7.04,6.70,7.71,6.59,5.70,6.26,6.70,6.37,6.59,6.82,6.70,6.93,6.59,6.37,7.04,7.38,6.82,6.37,6.93,7.27,7.49,6.93,8.61,6.82,5.70,6.26,6.70,6.82,6.37,6.93,6.59,6.82,6.48,6.70,6.37,6.03,6.48,6.70,6.37,6.15,6.70,6.48,6.82,6.37,6.59,6.70,7.38,6.59,6.82,6.37,6.48,6.70,6.26,6.59,6.82,6.37,6.48,6.70,6.48,6.93,6.59,6.37,6.70,6.93,7.15,6.48];

// ---- layout ----
const W = 1244, H = 1508;
const plotLeft = 205.5, plotRight = 1209.5;
const firstTop = 61, panelHeight = 120, panelPitch = 205.67;
const textColor = "#1a1a1a";
const labelFont = 26, expFont = 16;

const onGrid = (grid, values) => values.map((f, i) => [grid[0] + i * grid[1], f]);

const panels = [
  { obs: obs3850, model: model3850, curve: d3.curveLinear },
  { obs: obs4800, model: model4800, curve: d3.curveMonotoneX },
  { obs: obs5140, model: model5140, curve: d3.curveMonotoneX },
  { obs: obs6100, model: model6100, curve: d3.curveMonotoneX },
  { obs: onGrid(grid7000, obs7000), model: onGrid(grid7000, model7000), curve: d3.curveMonotoneX },
  { obs: onGrid(grid8300, obs8300), model: onGrid(grid8300, model8300), curve: d3.curveLinear },
  { obs: onGrid(grid9200, obs9200), model: onGrid(grid9200, model9200), curve: d3.curveLinear }
].map((p, i) => Object.assign(p, {
  waves: waveRanges[i], major: waveMajorSteps[i], minor: waveMinorSteps[i], ticks: fluxTicks[i]
}));

const svg = d3.select("#chart").attr("width", W).attr("height", H);
svg.append("rect").attr("width", W).attr("height", H).attr("fill", "#fff");

svg.append("text")
  .attr("x", (plotLeft + plotRight) / 2).attr("y", 41)
  .attr("text-anchor", "middle").attr("font-size", 34).attr("fill", textColor)
  .text(titleText);

svg.append("text")
  .attr("transform", `translate(34,${(firstTop + 6 * panelPitch + panelHeight + firstTop) / 2}) rotate(-90)`)
  .attr("text-anchor", "middle").attr("font-size", 26).attr("fill", textColor)
  .attr("letter-spacing", 0.3)
  .text(yAxisTitle);

svg.append("text")
  .attr("x", (plotLeft + plotRight) / 2).attr("y", 1503)
  .attr("text-anchor", "middle").attr("font-size", 27).attr("fill", textColor)
  .attr("letter-spacing", 0.4)
  .text(xAxisTitle);

function splitExp(v) {
  const [m, e] = v.toExponential().split("e");
  return [m, e.replace("+", "")];
}

function styleAxis(g) {
  g.select(".domain").remove();
  g.selectAll(".tick line").attr("stroke", "#000").attr("stroke-width", 2);
  g.attr("font-family", null).attr("font-size", labelFont).style("color", textColor);
  g.selectAll(".tick text").attr("letter-spacing", 1);
}

panels.forEach((p, i) => {
  const top = firstTop + i * panelPitch;
  const bottom = top + panelHeight;
  const [fb, fm, ft] = p.ticks;

  const x = d3.scaleLinear().domain(p.waves).range([plotLeft, plotRight]);
  const y = d3.scaleLinear().domain([fb, ft]).range([bottom, top]);

  const g = svg.append("g");

  const clipId = `clip-${i}`;
  g.append("clipPath").attr("id", clipId)
    .append("rect").attr("x", plotLeft).attr("y", top)
    .attr("width", plotRight - plotLeft).attr("height", panelHeight);

  const line = d3.line()
    .x(d => x(d[0]))
    .y(d => y(d[1] * FLUX_UNIT))
    .curve(p.curve);

  const lines = g.append("g").attr("clip-path", `url(#${clipId})`);
  lines.append("path").datum(p.obs)
    .attr("d", line).attr("fill", "none")
    .attr("stroke", "#000").attr("stroke-width", 1.8).attr("stroke-linejoin", "round");
  lines.append("path").datum(p.model)
    .attr("d", line).attr("fill", "none")
    .attr("stroke", "#ff0000").attr("stroke-width", 2).attr("stroke-linejoin", "round");

  // wavelength ticks (major labelled at the bottom, small inward marks top and bottom)
  const [w0, w1] = p.waves;
  const majors = d3.range(w0, w1 + 1e-6, p.major);
  const minors = d3.range(w0, w1 + 1e-6, p.minor).filter(v => !majors.some(m => Math.abs(m - v) < 1e-6));

  g.append("g").attr("transform", `translate(0,${bottom})`)
    .call(d3.axisBottom(x).tickValues(majors).tickSize(-2.4).tickPadding(30).tickFormat(d3.format("d")))
    .call(styleAxis);
  g.append("g").attr("transform", `translate(0,${bottom})`)
    .call(d3.axisBottom(x).tickValues(minors).tickSize(-1.2).tickFormat(""))
    .call(styleAxis);
  g.append("g").attr("transform", `translate(0,${top})`)
    .call(d3.axisTop(x).tickValues(majors).tickSize(-2.4).tickFormat(""))
    .call(styleAxis);
  g.append("g").attr("transform", `translate(0,${top})`)
    .call(d3.axisTop(x).tickValues(minors).tickSize(-1.2).tickFormat(""))
    .call(styleAxis);

  // flux ticks: long at labelled values, short at the quarter points
  const yMajor = [fb, (fb + ft) / 2, ft];
  const yMinor = [fb + (ft - fb) / 4, fb + 3 * (ft - fb) / 4];
  [[d3.axisLeft, plotLeft], [d3.axisRight, plotRight]].forEach(([axis, xpos]) => {
    g.append("g").attr("transform", `translate(${xpos},0)`)
      .call(axis(y).tickValues(yMajor).tickSize(-20).tickFormat(""))
      .call(styleAxis);
    g.append("g").attr("transform", `translate(${xpos},0)`)
      .call(axis(y).tickValues(yMinor).tickSize(-10).tickFormat(""))
      .call(styleAxis);
  });

  // flux labels as mantissa x 10^exponent
  const labelShift = [0, 12.5, 22];
  [fb, fm, ft].forEach((v, k) => {
    const [m, e] = splitExp(v);
    const base = y(yMajor[k]) + labelShift[k];
    g.append("text")
      .attr("x", 169.5).attr("y", base)
      .attr("text-anchor", "end").attr("font-size", labelFont).attr("fill", textColor)
      .attr("letter-spacing", 1.4)
      .text(`${m}×10`);
    g.append("text")
      .attr("x", 171).attr("y", base - 14)
      .attr("text-anchor", "start").attr("font-size", expFont).attr("fill", textColor)
      .attr("letter-spacing", 0.5)
      .text(e);
  });

  // frame
  g.append("rect")
    .attr("x", plotLeft).attr("y", top)
    .attr("width", plotRight - plotLeft).attr("height", panelHeight)
    .attr("fill", "none").attr("stroke", "#000").attr("stroke-width", 2);
});
</script>
</body>
</html>
